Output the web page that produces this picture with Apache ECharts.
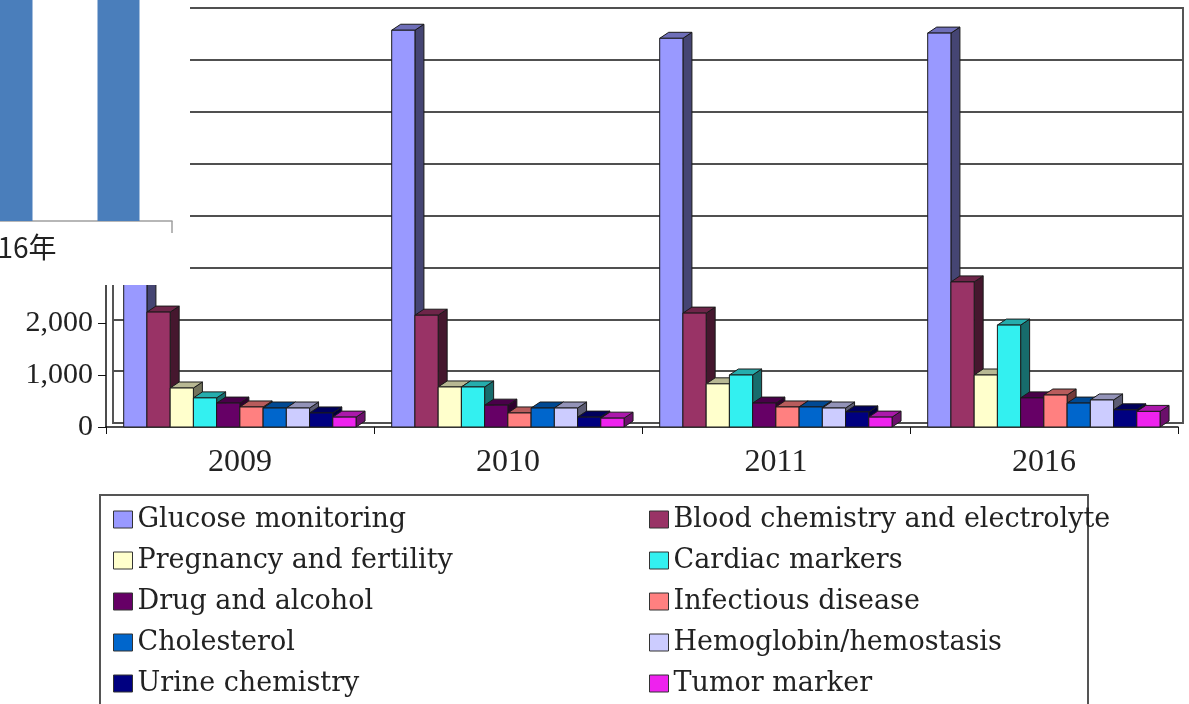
<!DOCTYPE html>
<html>
<head>
<meta charset="utf-8">
<script src="https://cdn.jsdelivr.net/npm/echarts@6/dist/echarts.min.js"></script>
<style>
  html, body { margin: 0; padding: 0; background: #fff; }
  #chart { width: 1189px; height: 704px; }
</style>
</head>
<body>
<div id="chart"></div>
<script>
// Market by test segment, four years
const years = ['2009', '2010', '2011', '2016'];

const glucoseMonitoring   = [7300, 7630, 7475, 7575];
const bloodChemistry      = [2210, 2150, 2190, 2790];
const pregnancyFertility  = [750, 770, 830, 1000];
const cardiacMarkers      = [560, 770, 1000, 1960];
const drugAlcohol         = [460, 420, 460, 560];
const infectiousDisease   = [385, 270, 385, 615];
const cholesterol         = [365, 365, 385, 460];
const hemoglobin          = [365, 365, 365, 520];
const urineChemistry      = [270, 190, 290, 330];
const tumorMarker         = [190, 170, 190, 300];

const seriesNames = [
  'Glucose monitoring', 'Blood chemistry and electrolyte',
  'Pregnancy and fertility', 'Cardiac markers',
  'Drug and alcohol', 'Infectious disease',
  'Cholesterol', 'Hemoglobin/hemostasis',
  'Urine chemistry', 'Tumor marker'
];
const seriesValues = [
  glucoseMonitoring, bloodChemistry, pregnancyFertility, cardiacMarkers,
  drugAlcohol, infectiousDisease, cholesterol, hemoglobin,
  urineChemistry, tumorMarker
];
const seriesColors = [
  '#9999FF', '#993366', '#FFFFCC', '#33F0F0', '#660066',
  '#FF8080', '#0066CC', '#CCCCFF', '#000080', '#EE22EE'
];

// Value axis ticks
const yMin = 0, yMax = 8000, yStep = 1000;

// Small pasted inset (partly outside the page)
const insetCategories = ['2016年', '2017年'];
const insetValues = [100, 100];

// 3D column geometry (fractions of one category band, pixel depth)
const LEAD = 0.066, SLOT = 0.0867, DX = 9, DY = 6;

function shade(hex, k) {
  const n = parseInt(hex.slice(1), 16);
  const r = Math.round(((n >> 16) & 255) * k);
  const g = Math.round(((n >> 8) & 255) * k);
  const b = Math.round((n & 255) * k);
  return 'rgb(' + r + ',' + g + ',' + b + ')';
}

function make3DRender(idx, color) {
  const sideC = shade(color, 0.45);
  const topC = shade(color, 0.72);
  return function (params, api) {
    const cat = api.value(0), val = api.value(1);
    const base = api.coord([cat, 0]);
    const head = api.coord([cat, val]);
    const band = api.size([1, 0])[0];
    const slot = band * SLOT;
    const x0 = base[0] - band / 2 + band * LEAD + idx * slot;
    const x1 = x0 + slot, yT = head[1], yB = base[1];
    const edge = { stroke: '#1a1a1a', lineWidth: 1 };
    return {
      type: 'group',
      children: [
        { type: 'polygon',
          shape: { points: [[x1, yB], [x1, yT], [x1 + DX, yT - DY], [x1 + DX, yB - DY]] },
          style: Object.assign({ fill: sideC }, edge) },
        { type: 'polygon',
          shape: { points: [[x0, yT], [x0 + DX, yT - DY], [x1 + DX, yT - DY], [x1, yT]] },
          style: Object.assign({ fill: topC }, edge) },
        { type: 'rect',
          shape: { x: x0, y: yT, width: slot, height: yB - yT },
          style: Object.assign({ fill: color }, edge) }
      ]
    };
  };
}

const serifFont = 'Liberation Serif';
const legendText = { fontFamily: 'DejaVu Serif', fontSize: 27, color: '#222' };

function legendItems(names) {
  return names.map(n => ({
    name: n,
    icon: 'rect',
    itemStyle: { color: seriesColors[seriesNames.indexOf(n)], borderColor: '#333', borderWidth: 1 }
  }));
}

const mainSeries = seriesNames.map((name, i) => ({
  name: name,
  type: 'custom',
  xAxisIndex: 1,
  yAxisIndex: 1,
  itemStyle: { color: seriesColors[i] },
  renderItem: make3DRender(i, seriesColors[i]),
  encode: { x: 0, y: 1 },
  data: seriesValues[i].map((v, k) => [k, v]),
  z: 2
}));

const chart = echarts.init(document.getElementById('chart'));
chart.setOption({
  backgroundColor: '#fff',
  animation: false,
  grid: [
    // back wall
    { left: 113, right: 6, top: 8, bottom: 281, show: true, borderColor: '#555', borderWidth: 2,
      outerBoundsMode: 'none' },
    // front plane with bars
    { left: 106, right: 11, top: 11, bottom: 277, outerBoundsMode: 'none' },
    // inset
    { left: -42, width: 214, top: 0, bottom: 483, outerBoundsMode: 'none' }
  ],
  xAxis: [
    { gridIndex: 0, type: 'category', data: years, show: false },
    { gridIndex: 1, type: 'category', data: years,
      axisLine: { lineStyle: { color: '#111', width: 1.5 } },
      axisTick: { show: true, length: 7, lineStyle: { color: '#111' } },
      axisLabel: { fontFamily: serifFont, fontSize: 32, color: '#222', margin: 20 } },
    { gridIndex: 2, type: 'category', data: insetCategories, z: 60,
      axisLine: { lineStyle: { color: '#a0a0a0', width: 1.5 } },
      axisTick: { show: true, length: 12, lineStyle: { color: '#a0a0a0', width: 1.5 } },
      axisLabel: { fontFamily: 'Noto Sans CJK SC', fontSize: 28, color: '#222', margin: 12 } }
  ],
  yAxis: [
    { gridIndex: 0, type: 'value', min: yMin, max: yMax, interval: yStep,
      axisLine: { show: false }, axisTick: { show: false }, axisLabel: { show: false },
      splitLine: { show: true, lineStyle: { color: '#505050', width: 2 } } },
    { gridIndex: 1, type: 'value', min: yMin, max: yMax, interval: yStep,
      axisLine: { show: true, lineStyle: { color: '#111', width: 1.5 } },
      axisTick: { show: true, length: 8, lineStyle: { color: '#111' } },
      splitLine: { show: false },
      axisLabel: { fontFamily: serifFont, fontSize: 30, color: '#222', margin: 13,
                   formatter: v => v.toLocaleString('en-US') } },
    { gridIndex: 2, type: 'value', min: 0, max: 100, show: false }
  ],
  legend: [
    { left: 113, top: 506, width: 520, height: 260, orient: 'vertical', padding: 0,
      itemGap: 14, itemWidth: 19, itemHeight: 17,
      selectedMode: false, textStyle: legendText,
      data: legendItems(seriesNames.filter((n, i) => i % 2 === 0)) },
    { left: 649, top: 506, width: 520, height: 260, orient: 'vertical', padding: 0,
      itemGap: 14, itemWidth: 19, itemHeight: 17,
      selectedMode: false, textStyle: legendText,
      data: legendItems(seriesNames.filter((n, i) => i % 2 === 1)) }
  ],
  graphic: [
    { type: 'rect', z: 1, shape: { x: 100, y: 495, width: 988, height: 230 },
      style: { fill: 'none', stroke: '#555', lineWidth: 2 } },
    { type: 'rect', z: 50, shape: { x: 0, y: 0, width: 190, height: 285 },
      style: { fill: '#ffffff' } }
  ],
  series: mainSeries.concat([
    { type: 'bar', xAxisIndex: 2, yAxisIndex: 2, data: insetValues, barWidth: 42,
      itemStyle: { color: '#4a7ebb' }, z: 60, silent: true }
  ])
});
</script>
</body>
</html>
